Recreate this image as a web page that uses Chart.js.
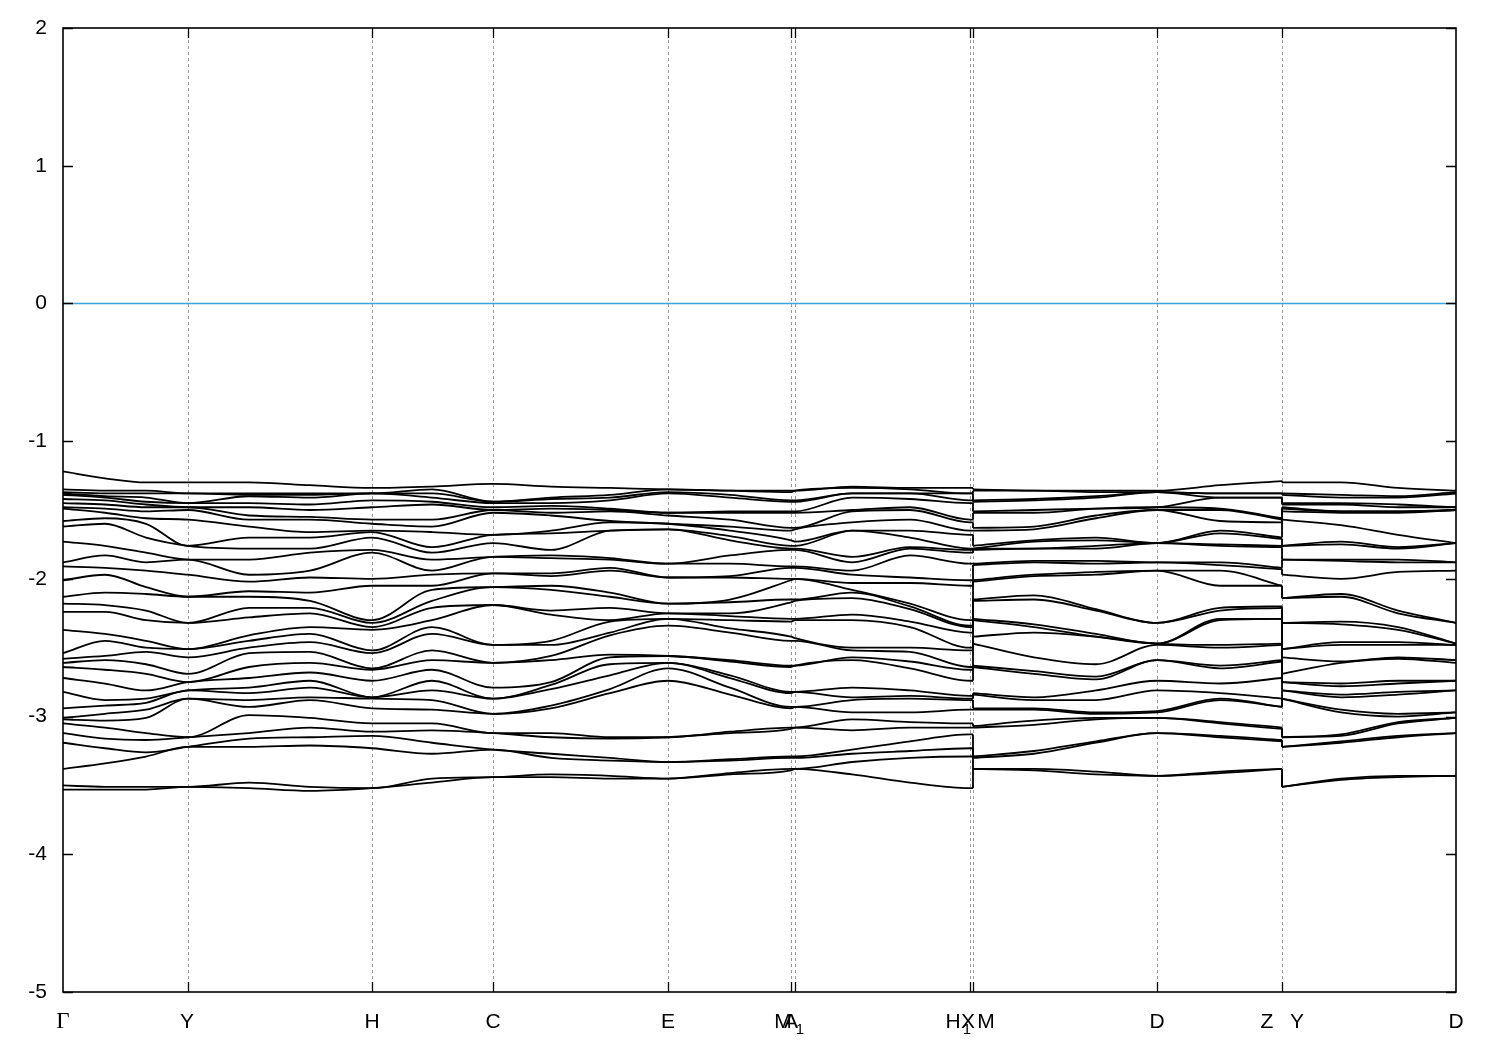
<!DOCTYPE html>
<html>
<head>
<meta charset="utf-8">
<title>Band structure</title>
<script src="https://cdn.jsdelivr.net/npm/chart.js@4.4.1/dist/chart.umd.min.js"></script>
<style>
  html, body { margin: 0; padding: 0; background: #ffffff; }
  #wrap { width: 1500px; height: 1050px; }
</style>
</head>
<body>
<div id="wrap"><canvas id="bands" width="1500" height="1050"></canvas></div>
<script>
// position along the k-path of every sampled column
const kPath = [0, 0.042, 0.083, 0.125, 0.186, 0.247, 0.309, 0.369, 0.430, 0.488, 0.547, 0.605,
  0.667, 0.728, 0.732, 0.789, 0.847, 0.907, 0.910, 0.910, 0.971, 1.033, 1.094, 1.157, 1.219,
  1.219, 1.278, 1.335, 1.393];

// eigenvalues (eV) at each column, sorted from top band to bottom band
const ev00 = [-1.22,-1.35,-1.37,-1.38,-1.39,-1.42,-1.45,-1.48,-1.49,-1.58,-1.62,-1.73,-1.88,-1.91,-2.01,-2.13,-2.18,-2.24,-2.37,-2.54,-2.58,-2.61,-2.64,-2.72,-2.82,-2.94,-3.01,-3.02,-3.05,-3.12,-3.19,-3.38,-3.50,-3.53]; // Γ
const ev01 = [-1.27,-1.36,-1.38,-1.40,-1.41,-1.43,-1.46,-1.49,-1.52,-1.56,-1.60,-1.76,-1.83,-1.92,-1.97,-2.10,-2.19,-2.24,-2.40,-2.45,-2.56,-2.59,-2.66,-2.76,-2.88,-2.92,-2.98,-3.03,-3.08,-3.16,-3.23,-3.34,-3.51,-3.53];
const ev02 = [-1.30,-1.36,-1.38,-1.41,-1.44,-1.46,-1.48,-1.51,-1.56,-1.60,-1.70,-1.81,-1.88,-1.94,-2.06,-2.11,-2.23,-2.30,-2.45,-2.50,-2.53,-2.62,-2.69,-2.81,-2.87,-2.90,-2.95,-3.01,-3.12,-3.17,-3.26,-3.29,-3.51,-3.53];
const ev03 = [-1.30,-1.38,-1.38,-1.45,-1.45,-1.48,-1.48,-1.50,-1.57,-1.76,-1.76,-1.86,-1.86,-1.97,-2.13,-2.13,-2.32,-2.32,-2.51,-2.51,-2.57,-2.69,-2.75,-2.75,-2.81,-2.81,-2.87,-2.87,-3.15,-3.15,-3.22,-3.22,-3.51,-3.51]; // Y
const ev04 = [-1.30,-1.38,-1.39,-1.40,-1.45,-1.48,-1.54,-1.57,-1.62,-1.70,-1.78,-1.86,-1.97,-2.02,-2.09,-2.13,-2.21,-2.28,-2.41,-2.45,-2.50,-2.54,-2.64,-2.72,-2.79,-2.83,-2.88,-2.93,-2.99,-3.12,-3.16,-3.22,-3.48,-3.52];
const ev05 = [-1.32,-1.38,-1.39,-1.41,-1.46,-1.50,-1.55,-1.57,-1.66,-1.70,-1.78,-1.81,-1.94,-1.99,-2.10,-2.16,-2.21,-2.25,-2.35,-2.40,-2.46,-2.53,-2.61,-2.68,-2.74,-2.79,-2.86,-2.88,-3.01,-3.08,-3.15,-3.21,-3.51,-3.54];
const ev06 = [-1.34,-1.38,-1.38,-1.38,-1.43,-1.48,-1.57,-1.60,-1.65,-1.66,-1.70,-1.79,-1.81,-2.00,-2.05,-2.30,-2.32,-2.35,-2.37,-2.52,-2.54,-2.65,-2.66,-2.74,-2.86,-2.86,-2.87,-2.94,-3.05,-3.11,-3.14,-3.23,-3.52,-3.52]; // H
const ev07 = [-1.33,-1.35,-1.38,-1.41,-1.44,-1.46,-1.57,-1.62,-1.66,-1.77,-1.81,-1.86,-1.94,-1.97,-2.05,-2.08,-2.16,-2.21,-2.30,-2.35,-2.40,-2.52,-2.59,-2.66,-2.74,-2.81,-2.88,-2.95,-3.05,-3.10,-3.19,-3.27,-3.45,-3.48];
const ev08 = [-1.31,-1.44,-1.44,-1.45,-1.48,-1.50,-1.50,-1.52,-1.68,-1.68,-1.74,-1.84,-1.84,-1.96,-1.96,-2.06,-2.06,-2.19,-2.19,-2.48,-2.48,-2.61,-2.61,-2.79,-2.87,-2.87,-2.98,-2.98,-3.12,-3.12,-3.24,-3.24,-3.44,-3.44]; // C
const ev09 = [-1.33,-1.41,-1.42,-1.45,-1.47,-1.49,-1.52,-1.54,-1.65,-1.67,-1.79,-1.83,-1.85,-1.96,-1.98,-2.05,-2.08,-2.23,-2.26,-2.45,-2.48,-2.56,-2.59,-2.75,-2.77,-2.80,-2.92,-2.94,-3.12,-3.15,-3.27,-3.30,-3.42,-3.44];
const ev10 = [-1.34,-1.39,-1.41,-1.43,-1.49,-1.50,-1.51,-1.58,-1.59,-1.65,-1.65,-1.85,-1.86,-1.92,-1.94,-2.10,-2.13,-2.21,-2.30,-2.31,-2.39,-2.41,-2.55,-2.57,-2.62,-2.70,-2.80,-2.83,-3.15,-3.16,-3.30,-3.32,-3.43,-3.45];
const ev11 = [-1.35,-1.35,-1.37,-1.38,-1.52,-1.52,-1.54,-1.60,-1.60,-1.64,-1.64,-1.89,-1.89,-1.99,-1.99,-2.18,-2.18,-2.25,-2.25,-2.29,-2.29,-2.34,-2.56,-2.56,-2.61,-2.61,-2.65,-2.74,-3.15,-3.15,-3.33,-3.33,-3.45,-3.45]; // E
const ev12 = [-1.36,-1.36,-1.39,-1.41,-1.51,-1.52,-1.57,-1.62,-1.65,-1.69,-1.72,-1.83,-1.89,-1.98,-1.99,-2.15,-2.17,-2.25,-2.27,-2.30,-2.36,-2.39,-2.59,-2.60,-2.70,-2.72,-2.79,-2.84,-3.11,-3.12,-3.31,-3.32,-3.41,-3.42];
const ev13 = [-1.36,-1.37,-1.43,-1.44,-1.51,-1.52,-1.63,-1.65,-1.72,-1.76,-1.78,-1.79,-1.91,-1.92,-2.00,-2.01,-2.15,-2.17,-2.29,-2.31,-2.42,-2.45,-2.63,-2.64,-2.82,-2.83,-2.93,-2.94,-3.08,-3.09,-3.29,-3.30,-3.38,-3.39]; // M1
const ev14 = [-1.36,-1.36,-1.43,-1.44,-1.51,-1.52,-1.63,-1.64,-1.73,-1.76,-1.78,-1.79,-1.91,-1.92,-2.00,-2.00,-2.15,-2.16,-2.29,-2.30,-2.43,-2.45,-2.63,-2.63,-2.82,-2.82,-2.93,-2.93,-3.08,-3.08,-3.29,-3.30,-3.38,-3.38]; // A
const ev15 = [-1.33,-1.34,-1.38,-1.38,-1.41,-1.50,-1.51,-1.59,-1.65,-1.65,-1.84,-1.88,-1.94,-1.97,-2.03,-2.08,-2.10,-2.14,-2.26,-2.30,-2.50,-2.52,-2.57,-2.59,-2.79,-2.86,-2.88,-2.97,-3.02,-3.10,-3.24,-3.27,-3.33,-3.42];
const ev16 = [-1.34,-1.35,-1.38,-1.38,-1.42,-1.48,-1.50,-1.57,-1.65,-1.70,-1.77,-1.78,-1.83,-1.99,-2.03,-2.18,-2.20,-2.22,-2.31,-2.35,-2.50,-2.53,-2.60,-2.65,-2.81,-2.85,-2.87,-2.97,-3.04,-3.08,-3.18,-3.25,-3.30,-3.48];
const ev17 = [-1.34,-1.38,-1.38,-1.43,-1.45,-1.57,-1.59,-1.65,-1.68,-1.78,-1.79,-1.81,-1.89,-2.01,-2.05,-2.30,-2.34,-2.35,-2.39,-2.50,-2.52,-2.64,-2.66,-2.74,-2.85,-2.87,-2.88,-2.95,-3.05,-3.08,-3.13,-3.23,-3.29,-3.52]; // X
const ev18 = [-1.34,-1.38,-1.38,-1.43,-1.45,-1.57,-1.59,-1.65,-1.68,-1.78,-1.79,-1.81,-1.89,-2.01,-2.05,-2.30,-2.34,-2.35,-2.39,-2.50,-2.52,-2.64,-2.66,-2.74,-2.85,-2.87,-2.88,-2.95,-3.05,-3.08,-3.13,-3.23,-3.29,-3.52]; // H1
const ev19 = [-1.35,-1.36,-1.43,-1.44,-1.51,-1.52,-1.63,-1.65,-1.76,-1.78,-1.78,-1.79,-1.89,-1.90,-2.01,-2.02,-2.15,-2.16,-2.29,-2.30,-2.42,-2.47,-2.63,-2.64,-2.83,-2.84,-2.94,-2.95,-3.07,-3.08,-3.29,-3.30,-3.38,-3.38]; // M
const ev20 = [-1.36,-1.36,-1.42,-1.43,-1.50,-1.52,-1.62,-1.64,-1.72,-1.73,-1.78,-1.78,-1.87,-1.88,-1.97,-1.98,-2.12,-2.15,-2.33,-2.35,-2.39,-2.57,-2.67,-2.69,-2.86,-2.88,-2.94,-2.95,-3.03,-3.06,-3.25,-3.27,-3.38,-3.39];
const ev21 = [-1.36,-1.37,-1.40,-1.41,-1.49,-1.49,-1.54,-1.56,-1.70,-1.72,-1.76,-1.78,-1.87,-1.89,-1.95,-1.97,-2.22,-2.23,-2.40,-2.42,-2.42,-2.62,-2.71,-2.73,-2.81,-2.88,-2.97,-2.98,-3.01,-3.02,-3.18,-3.19,-3.40,-3.42];
const ev22 = [-1.36,-1.37,-1.37,-1.37,-1.48,-1.48,-1.50,-1.50,-1.74,-1.74,-1.74,-1.74,-1.88,-1.88,-1.94,-1.94,-2.32,-2.32,-2.47,-2.47,-2.47,-2.48,-2.59,-2.59,-2.74,-2.81,-2.96,-2.97,-3.01,-3.01,-3.12,-3.12,-3.43,-3.43]; // D
const ev23 = [-1.32,-1.38,-1.38,-1.41,-1.41,-1.49,-1.50,-1.58,-1.65,-1.67,-1.75,-1.76,-1.88,-1.90,-1.94,-2.05,-2.21,-2.23,-2.29,-2.30,-2.48,-2.50,-2.63,-2.65,-2.76,-2.83,-2.87,-2.88,-3.04,-3.05,-3.14,-3.15,-3.40,-3.41];
const ev24 = [-1.29,-1.38,-1.38,-1.41,-1.41,-1.56,-1.57,-1.59,-1.70,-1.71,-1.76,-1.77,-1.92,-1.93,-2.05,-2.05,-2.20,-2.21,-2.29,-2.29,-2.47,-2.48,-2.59,-2.60,-2.72,-2.87,-2.93,-2.93,-3.08,-3.09,-3.17,-3.18,-3.38,-3.38]; // Z
const ev25 = [-1.30,-1.38,-1.39,-1.45,-1.46,-1.48,-1.49,-1.51,-1.57,-1.76,-1.76,-1.86,-1.86,-1.97,-2.14,-2.14,-2.32,-2.32,-2.51,-2.51,-2.57,-2.69,-2.75,-2.75,-2.81,-2.81,-2.87,-2.87,-3.15,-3.15,-3.22,-3.22,-3.51,-3.51]; // Y
const ev26 = [-1.30,-1.39,-1.41,-1.45,-1.46,-1.51,-1.51,-1.52,-1.61,-1.73,-1.75,-1.86,-1.87,-2.00,-2.11,-2.13,-2.31,-2.33,-2.46,-2.48,-2.60,-2.61,-2.76,-2.78,-2.84,-2.86,-2.95,-2.97,-3.13,-3.14,-3.18,-3.19,-3.45,-3.46];
const ev27 = [-1.34,-1.40,-1.41,-1.46,-1.48,-1.51,-1.51,-1.52,-1.68,-1.77,-1.78,-1.86,-1.88,-1.95,-2.23,-2.25,-2.35,-2.37,-2.46,-2.48,-2.57,-2.58,-2.74,-2.76,-2.82,-2.84,-2.98,-3.00,-3.04,-3.05,-3.14,-3.15,-3.43,-3.44];
const ev28 = [-1.36,-1.37,-1.38,-1.48,-1.48,-1.50,-1.50,-1.50,-1.74,-1.74,-1.74,-1.88,-1.88,-1.94,-2.32,-2.32,-2.47,-2.47,-2.48,-2.48,-2.59,-2.61,-2.74,-2.74,-2.81,-2.81,-2.97,-2.97,-3.01,-3.01,-3.12,-3.12,-3.43,-3.43]; // D

// high-symmetry points (dotted lines + ticks)
const symTicks = [0.125, 0.309, 0.430, 0.605, 0.728, 0.732, 0.907, 0.910, 1.094, 1.219];
// labels under the axis
const labelText = ['Γ', 'Y', 'H', 'C', 'E', 'M', 'A', 'H', 'X', 'M', 'D', 'Z', 'Y', 'D'];
const labelPos  = [0, 0.124, 0.309, 0.430, 0.605, 0.720, 0.728, 0.890, 0.905, 0.923, 1.094, 1.204, 1.234, 1.393];
const subText = ['1', '1'];
const subPos  = [0.737, 0.904];
const yTicks = [2, 1, 0, -1, -2, -3, -4, -5];
const fermiLevel = 0;

const columns = [ev00, ev01, ev02, ev03, ev04, ev05, ev06, ev07, ev08, ev09, ev10, ev11, ev12, ev13,
  ev14, ev15, ev16, ev17, ev18, ev19, ev20, ev21, ev22, ev23, ev24, ev25, ev26, ev27, ev28];

const segments = [[0, 18], [19, 24], [25, 28]];   // continuous pieces of the path
const breaks = [[18, 19], [24, 25]];              // H1|M and Z|Y

const datasets = [];
for (let b = 0; b < ev00.length; b++) {
    segments.forEach(([a, z]) => {
        const pts = [];
        for (let i = a; i <= z; i++) pts.push({ x: kPath[i], y: columns[i][b] });
        datasets.push({
            data: pts, borderColor: '#000000', borderWidth: 1.8,
            pointRadius: 0, cubicInterpolationMode: 'monotone', fill: false
        });
    });
    breaks.forEach(([a, z]) => {
        datasets.push({
            data: [{ x: kPath[a], y: columns[a][b] }, { x: kPath[z], y: columns[z][b] }],
            borderColor: '#000000', borderWidth: 1.8, pointRadius: 0, tension: 0, fill: false
        });
    });
}
datasets.push({
    data: [{ x: kPath[0], y: fermiLevel }, { x: kPath[kPath.length - 1], y: fermiLevel }],
    borderColor: '#3aa3dc', borderWidth: 1.6, pointRadius: 0, tension: 0, fill: false
});

// frame, dotted k-lines, ticks and labels in gnuplot style
const framePlugin = {
    id: 'frame',
    beforeDatasetsDraw(chart) {
        const { ctx, chartArea: a, scales: { x } } = chart;
        ctx.save();
        ctx.strokeStyle = '#9a9a9a';
        ctx.lineWidth = 1;
        ctx.setLineDash([3, 3]);
        symTicks.forEach(k => {
            const px = Math.round(x.getPixelForValue(k)) + 0.5;
            ctx.beginPath();
            ctx.moveTo(px, a.top);
            ctx.lineTo(px, a.bottom);
            ctx.stroke();
        });
        ctx.restore();
    },
    afterDatasetsDraw(chart) {
        const { ctx, chartArea: a, scales: { x, y } } = chart;
        ctx.save();
        ctx.strokeStyle = '#000000';
        ctx.lineWidth = 1.6;
        ctx.strokeRect(a.left, a.top, a.right - a.left, a.bottom - a.top);

        ctx.lineWidth = 1.3;
        ctx.beginPath();
        symTicks.forEach(k => {
            const px = Math.round(x.getPixelForValue(k)) + 0.5;
            ctx.moveTo(px, a.bottom); ctx.lineTo(px, a.bottom - 10);
            ctx.moveTo(px, a.top); ctx.lineTo(px, a.top + 10);
        });
        yTicks.forEach(v => {
            const py = Math.round(y.getPixelForValue(v)) + 0.5;
            ctx.moveTo(a.left, py); ctx.lineTo(a.left + 10, py);
            ctx.moveTo(a.right, py); ctx.lineTo(a.right - 10, py);
        });
        ctx.stroke();

        ctx.fillStyle = '#000000';
        ctx.font = '21px "Liberation Sans", Arial, sans-serif';
        ctx.textAlign = 'right';
        ctx.textBaseline = 'middle';
        yTicks.forEach(v => ctx.fillText(String(v), a.left - 16, y.getPixelForValue(v)));

        ctx.textAlign = 'center';
        ctx.textBaseline = 'alphabetic';
        labelText.forEach((t, i) => {
            ctx.font = t === 'Γ' ? '23px "Liberation Serif", "DejaVu Serif", serif'
                                 : '21px "Liberation Sans", Arial, sans-serif';
            ctx.fillText(t, x.getPixelForValue(labelPos[i]), a.bottom + 36);
        });
        ctx.font = '15px "Liberation Sans", Arial, sans-serif';
        subText.forEach((t, i) => ctx.fillText(t, x.getPixelForValue(subPos[i]), a.bottom + 42));
        ctx.restore();
    }
};

new Chart(document.getElementById('bands'), {
    type: 'line',
    data: { datasets },
    options: {
        responsive: false,
        animation: false,
        events: [],
        layout: { padding: { left: 63, right: 44, top: 28, bottom: 58 } },
        plugins: { legend: { display: false }, tooltip: { enabled: false } },
        scales: {
            x: { type: 'linear', min: 0, max: 1.393, display: false },
            y: { type: 'linear', min: -5, max: 2, display: false }
        }
    },
    plugins: [framePlugin]
});
</script>
</body>
</html>
